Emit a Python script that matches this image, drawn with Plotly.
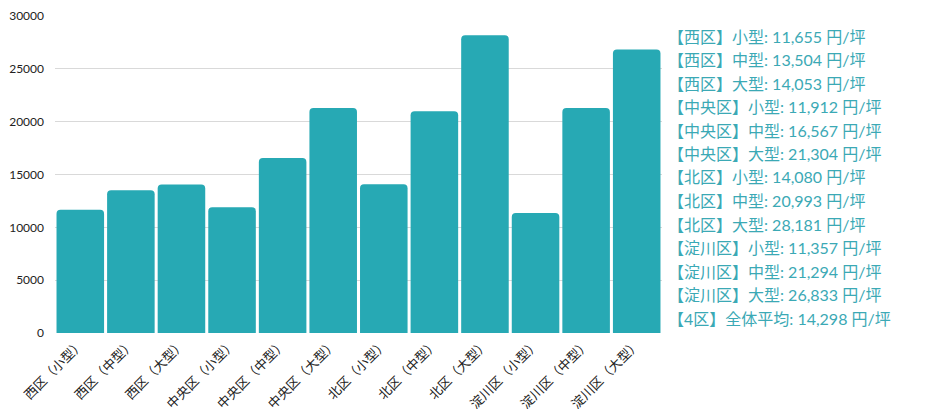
import plotly.graph_objects as go

categories = ["西区（小型）", "西区（中型）", "西区（大型）",
              "中央区（小型）", "中央区（中型）", "中央区（大型）",
              "北区（小型）", "北区（中型）", "北区（大型）",
              "淀川区（小型）", "淀川区（中型）", "淀川区（大型）"]
values = [11655, 13504, 14053, 11912, 16567, 21304, 14080, 20993, 28181, 11357, 21294, 26833]
note_lines = [
    "【西区】小型: 11,655 円/坪",
    "【西区】中型: 13,504 円/坪",
    "【西区】大型: 14,053 円/坪",
    "【中央区】小型: 11,912 円/坪",
    "【中央区】中型: 16,567 円/坪",
    "【中央区】大型: 21,304 円/坪",
    "【北区】小型: 14,080 円/坪",
    "【北区】中型: 20,993 円/坪",
    "【北区】大型: 28,181 円/坪",
    "【淀川区】小型: 11,357 円/坪",
    "【淀川区】中型: 21,294 円/坪",
    "【淀川区】大型: 26,833 円/坪",
    "【4区】全体平均: 14,298 円/坪",
]
y_ticks = [0, 5000, 10000, 15000, 20000, 25000, 30000]
y_ticktext = ["0", "5000", "10000", "15000", "20000", "25000", "30000"]

W, H = 933, 419
ml, mr, mt, mb = 55, 271, 16, 86
font_family = "Lato, Noto Sans CJK JP, sans-serif"

fig = go.Figure(go.Bar(
    x=categories, y=values,
    marker=dict(color="#27a9b4", line=dict(width=0), cornerradius=4),
))

plot_h = H - mt - mb
plot_w = W - ml - mr
annotations = []
for i, line in enumerate(note_lines):
    ypix = 36 + i * 23.5
    annotations.append(dict(
        text=line, xref="paper", yref="paper",
        x=(666 - ml) / plot_w, xanchor="left",
        y=1 - (ypix - mt) / plot_h, yanchor="middle",
        showarrow=False,
        font=dict(size=16, color="#3ba9b5", family=font_family),
    ))

fig.update_layout(
    width=W, height=H,
    margin=dict(l=ml, r=mr, t=mt, b=mb),
    paper_bgcolor="white", plot_bgcolor="white",
    bargap=0.06,
    showlegend=False,
    font=dict(family=font_family, size=12, color="#222222"),
    annotations=annotations,
    xaxis=dict(tickangle=-45, tickfont=dict(size=13, color="#222222"),
               showgrid=False, showline=False, ticks="", automargin=False),
    yaxis=dict(range=[0, 30000], tickvals=y_ticks, ticktext=y_ticktext,
               showgrid=True, gridcolor="#d9d9d9", gridwidth=1, zeroline=False,
               tickfont=dict(size=12, color="#222222"), ticks="",
               ticklabelstandoff=10, automargin=False),
)

fig.write_html(
    "out.html",
    config={"displayModeBar": False},
    post_script="document.body.style.margin='0';document.body.style.padding='0';",
)
